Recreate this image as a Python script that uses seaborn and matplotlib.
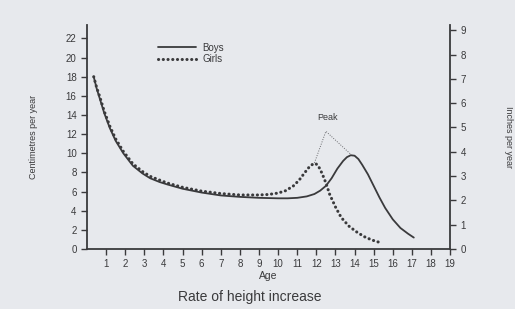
import matplotlib
matplotlib.use("Agg")
import matplotlib.pyplot as plt
import pandas as pd
import seaborn as sns

# Growth velocity curves (age in years, cm per year)
boys_age = [0.35, 0.5, 0.7, 0.9, 1.2, 1.5, 1.9, 2.4, 2.9, 3.3, 3.8, 4.2, 5.0,
            6.0, 7.0, 8.0, 9.0, 10.0, 10.5, 11.0, 11.5, 11.9, 12.2, 12.5, 12.8,
            13.1, 13.4, 13.6, 13.8, 14.0, 14.2, 14.4, 14.7, 15.0, 15.3, 15.6,
            16.0, 16.4, 16.8, 17.1]
boys_cm = [18.0, 16.8, 15.5, 14.2, 12.6, 11.3, 10.0, 8.7, 7.9, 7.4, 7.0, 6.75, 6.3,
           5.9, 5.6, 5.45, 5.35, 5.3, 5.3, 5.35, 5.5, 5.75, 6.1, 6.6, 7.4,
           8.4, 9.2, 9.6, 9.8, 9.75, 9.4, 8.8, 7.8, 6.6, 5.4, 4.3,
           3.1, 2.2, 1.6, 1.2]

girls_age = [0.35, 0.5, 0.7, 0.9, 1.2, 1.5, 1.9, 2.4, 2.9, 3.3, 3.8, 4.2, 5.0,
             6.0, 7.0, 8.0, 9.0, 9.5, 10.0, 10.4, 10.8, 11.1, 11.4, 11.6, 11.8,
             11.95, 12.1, 12.3, 12.5, 12.7, 13.0, 13.3, 13.7, 14.1, 14.5, 14.9,
             15.3]
girls_cm = [18.0, 16.9, 15.7, 14.4, 12.8, 11.5, 10.2, 8.9, 8.1, 7.6, 7.2, 6.9, 6.45,
            6.05, 5.8, 5.65, 5.65, 5.7, 5.85, 6.1, 6.6, 7.2, 8.0, 8.5, 8.85,
            8.95, 8.7, 7.9, 6.9, 5.7, 4.4, 3.3, 2.4, 1.8, 1.3, 0.95,
            0.7]

# "Peak" construction lines: apex above, joined to each peak
peak_age = [11.9, 12.5, 13.8]
peak_cm = [9.0, 12.3, 9.9]

x_ticks = list(range(1, 20))
cm_ticks = list(range(0, 23, 2))
inch_ticks = list(range(0, 10))

ink = "#3a3a3c"
paper = "#e7e9ed"

sns.set_style("ticks")
plt.rcParams["font.family"] = ["Liberation Sans", "DejaVu Sans"]
plt.rcParams["text.color"] = ink
plt.rcParams["axes.labelcolor"] = ink
plt.rcParams["xtick.color"] = ink
plt.rcParams["ytick.color"] = ink

boys = pd.DataFrame({"age": boys_age, "cm": boys_cm})
girls = pd.DataFrame({"age": girls_age, "cm": girls_cm})
peak = pd.DataFrame({"age": peak_age, "cm": peak_cm})

fig = plt.figure(figsize=(5.15, 3.09), dpi=100, facecolor=paper)
ax = fig.add_axes([0.169, 0.194, 0.705, 0.725])
ax.set_facecolor(paper)

sns.lineplot(data=boys, x="age", y="cm", ax=ax, color=ink, lw=1.3, label="Boys", sort=False)
sns.lineplot(data=girls, x="age", y="cm", ax=ax, color=ink, lw=2.2,
             linestyle=(0, (0.05, 1.5)), dash_capstyle="round", label="Girls", sort=False)
sns.lineplot(data=peak, x="age", y="cm", ax=ax, color="#6a6a6e", lw=0.7,
             linestyle=(0, (1, 1.5)), sort=False, legend=False)
ax.text(12.6, 13.3, "Peak", ha="center", va="bottom", fontsize=6.5)

ax.set_xlim(0, 19)
ax.set_ylim(0, 23.4)
ax.set_xticks(x_ticks)
ax.set_yticks(cm_ticks)
ax.tick_params(labelsize=7, length=4, width=1)
ax.set_xlabel("Age", fontsize=7.5, labelpad=1)
ax.set_ylabel("Centimetres per year", fontsize=6.5, labelpad=20)
for side in ["left", "bottom"]:
    ax.spines[side].set_linewidth(1.3)
    ax.spines[side].set_color(ink)
ax.spines["right"].set_visible(False)
ax.spines["top"].set_visible(False)

ax2 = ax.twinx()
ax2.set_ylim(0, 23.4 / 2.54)
ax2.set_yticks(inch_ticks)
ax2.tick_params(labelsize=7, length=4, width=1)
ax2.set_ylabel("Inches per year", fontsize=6.5, rotation=270, labelpad=34)
ax2.spines["right"].set_linewidth(1.3)
ax2.spines["right"].set_color(ink)
for side in ["left", "top", "bottom"]:
    ax2.spines[side].set_visible(False)

ax.legend(loc="upper left", bbox_to_anchor=(0.17, 0.96), frameon=False,
          fontsize=7, handlelength=4, handletextpad=0.6, labelspacing=0.15)

fig.text(0.485, 0.025, "Rate of height increase", ha="center", fontsize=10)

fig.savefig("out.png", dpi=100, facecolor=paper)
